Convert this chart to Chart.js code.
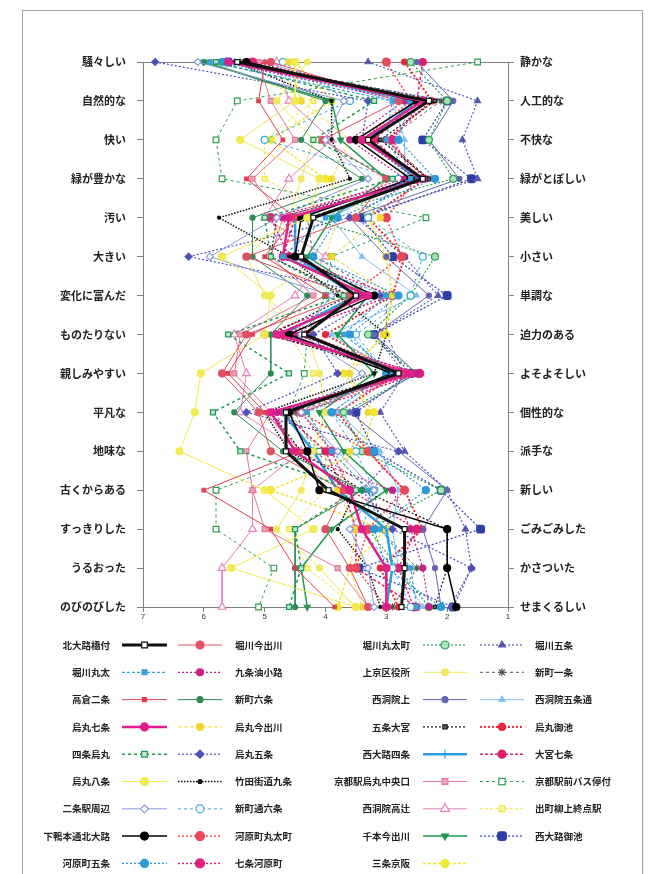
<!DOCTYPE html>
<html>
<head>
<meta charset="utf-8">
<script src="https://cdn.jsdelivr.net/npm/chart.js@4/dist/chart.umd.min.js"></script>
<style>
  html, body { margin: 0; padding: 0; background: #fff; }
  #wrap { position: relative; width: 664px; height: 874px; }
  canvas { display: block; }
</style>
</head>
<body>
<div id="wrap"><canvas id="c" width="664" height="874"></canvas></div>
<script>
// Adjective pairs: left pole / right pole
const leftLabels = ['騒々しい','自然的な','快い','緑が豊かな','汚い','大きい','変化に富んだ','ものたりない','親しみやすい','平凡な','地味な','古くからある','すっきりした','うるおった','のびのびした'];
const rightLabels = ['静かな','人工的な','不快な','緑がとぼしい','美しい','小さい','単調な','迫力のある','よそよそしい','個性的な','派手な','新しい','ごみごみした','かさついた','せまくるしい'];
const scaleTicks = [7, 6, 5, 4, 3, 2, 1];

// Survey sites
const siteNames = ['北大路橋付','堀川丸太','高倉二条','烏丸七条','四条烏丸','烏丸八条','二条駅周辺','下鴨本通北大路','河原町五条',
  '堀川今出川','九条油小路','新町六条','烏丸今出川','烏丸五条','竹田街道九条','新町通六条','河原町丸太町','七条河原町',
  '堀川丸太町','上京区役所','西洞院上','五条大宮','西大路四条','京都駅烏丸中央口','西洞院高辻','千本今出川','三条京阪',
  '堀川五条','新町一条','西洞院五条通','烏丸御池','大宮七条','京都駅前バス停付','出町柳上終点駅','西大路御池'];

// Mean scores per site (7 = left pole, 1 = right pole)
const s01 = [5.45, 2.3, 3.3, 2.4, 4.2, 4.4, 3.5, 4.35, 2.8, 4.65, 4.65, 3.95, 2.7, 2.7, 2.75];
const s02 = [5.9, 2.9, 3.0, 2.6, 4.0, 4.7, 3.0, 3.7, 2.9, 4.3, 3.9, 3.3, 3.1, 2.6, 2.5];
const s03 = [5.0, 5.1, 4.7, 5.3, 4.5, 5.0, 4.0, 5.2, 5.6, 5.0, 4.4, 6.0, 4.9, 4.5, 3.85];
const s04 = [5.6, 2.4, 3.4, 2.4, 4.6, 4.7, 3.3, 4.8, 2.6, 4.9, 4.5, 3.6, 3.4, 3.0, 3.0];
const s05 = [5.8, 3.2, 4.2, 2.9, 5.0, 4.9, 3.7, 5.6, 4.6, 5.85, 5.4, 3.5, 4.5, 4.4, 4.6];
const s06 = [4.5, 4.5, 5.4, 4.1, 4.3, 5.7, 4.9, 5.0, 6.05, 6.15, 6.4, 5.0, 4.2, 5.55, 3.5];
const s07 = [6.1, 3.7, 4.0, 3.3, 4.8, 5.9, 3.9, 4.4, 3.4, 4.4, 3.8, 3.2, 3.6, 3.3, 3.2];
const s08 = [5.3, 2.5, 3.5, 2.6, 4.4, 4.5, 3.2, 4.6, 2.9, 4.6, 4.3, 4.1, 2.0, 2.0, 1.85];
const s09 = [5.7, 2.6, 2.8, 2.2, 3.8, 4.2, 2.8, 3.6, 3.0, 3.9, 3.2, 2.35, 3.2, 3.0, 2.1];
const s10 = [4.9, 2.8, 4.05, 3.0, 3.5, 5.3, 3.6, 5.3, 5.7, 5.1, 4.9, 3.7, 4.0, 3.6, 3.3];
const s11 = [5.7, 2.7, 3.6, 2.7, 4.7, 4.4, 3.4, 4.5, 2.5, 4.8, 4.6, 2.9, 2.6, 2.4, 2.3];
const s12 = [6.0, 4.0, 4.4, 3.4, 5.2, 5.2, 4.3, 4.9, 4.9, 5.5, 4.7, 3.4, 4.5, 4.5, 4.5];
const s13 = [4.6, 4.4, 3.6, 3.9, 3.1, 3.9, 2.9, 3.05, 3.6, 3.3, 3.6, 3.8, 3.5, 3.6, 3.4];
const s14 = [6.8, 3.3, 3.4, 2.5, 3.6, 6.25, 3.1, 4.2, 3.8, 5.3, 2.8, 3.4, 2.9, 1.6, 1.9];
const s15 = [5.5, 3.9, 3.9, 3.6, 5.75, 4.6, 3.8, 3.0, 3.2, 5.0, 4.6, 3.5, 3.8, 3.3, 3.1];
const s16 = [4.7, 3.6, 5.0, 2.8, 3.3, 2.4, 2.6, 3.5, 3.0, 3.9, 3.5, 3.2, 3.4, 2.9, 2.6];
const s17 = [3.0, 2.6, 3.4, 2.5, 3.0, 2.75, 3.6, 4.3, 2.7, 4.4, 3.3, 2.7, 3.3, 3.5, 3.0];
const s18 = [5.2, 2.4, 2.9, 2.5, 4.9, 4.6, 2.9, 4.7, 2.45, 4.4, 3.9, 3.6, 2.5, 2.8, 2.55];
const s19 = [2.6, 2.0, 2.3, 1.9, 4.3, 2.2, 2.6, 3.3, 2.5, 3.7, 3.4, 2.1, 3.3, 2.8, 2.3];
const s20 = [4.3, 4.8, 4.2, 4.4, 4.6, 5.3, 5.0, 4.3, 4.1, 4.0, 4.2, 4.4, 4.8, 4.1, 3.5];
const s21 = [2.5, 1.9, 2.3, 1.8, 3.6, 3.0, 2.3, 3.2, 2.5, 3.6, 2.8, 2.0, 2.4, 2.2, 2.1];
const s22 = [5.6, 2.2, 3.1, 2.3, 4.8, 4.9, 3.6, 4.9, 2.8, 4.9, 4.4, 3.4, 2.0, 2.0, 2.2];
const s23 = [5.5, 2.5, 3.3, 2.5, 4.5, 4.5, 3.5, 4.7, 2.7, 4.7, 4.2, 3.8, 3.0, 2.9, 3.0];
const s24 = [5.1, 4.9, 4.5, 5.2, 4.7, 4.9, 4.2, 5.4, 5.5, 4.9, 5.3, 5.2, 5.0, 3.8, 3.3];
const s25 = [4.8, 4.6, 3.9, 4.6, 5.0, 4.0, 4.5, 5.5, 5.3, 5.4, 4.4, 5.2, 5.2, 5.7, 5.7];
const s26 = [6.0, 3.9, 3.75, 3.0, 3.9, 4.3, 3.3, 3.8, 3.2, 4.1, 3.7, 3.0, 3.9, 4.4, 4.3];
const s27 = [4.5, 3.9, 4.9, 4.0, 3.3, 3.0, 2.9, 3.0, 3.7, 3.2, 3.4, 4.9, 3.0, 3.6, 3.8];
const s28 = [3.3, 1.5, 1.75, 1.5, 3.5, 2.7, 2.15, 3.2, 2.7, 3.1, 2.7, 2.0, 1.7, 1.6, 1.95];
const s29 = [5.4, 2.1, 3.0, 2.3, 4.3, 4.2, 3.0, 3.0, 2.7, 4.5, 4.2, 3.2, 3.1, 2.5, 2.9];
const s30 = [5.0, 2.9, 2.7, 2.7, 3.9, 3.4, 2.5, 3.9, 2.9, 3.8, 3.1, 2.8, 2.9, 2.8, 2.4];
const s31 = [2.7, 2.25, 3.0, 2.35, 3.3, 2.7, 2.9, 4.0, 2.8, 3.8, 3.3, 2.7, 2.4, 3.1, 2.8];
const s32 = [2.4, 2.5, 3.2, 2.5, 4.5, 4.7, 3.3, 5.0, 2.5, 4.7, 4.0, 3.7, 3.5, 3.5, 2.5];
const s33 = [1.5, 5.45, 5.8, 5.7, 2.35, 3.9, 4.0, 4.3, 4.35, 4.6, 4.1, 5.8, 5.8, 4.85, 5.1];
const s34 = [5.9, 4.2, 5.0, 5.0, 3.8, 4.0, 5.0, 4.6, 4.2, 4.3, 4.0, 4.0, 4.6, 4.3, 3.5];
const s35 = [5.6, 2.0, 2.4, 1.6, 3.4, 2.9, 2.0, 3.2, 2.6, 3.5, 3.2, 2.1, 1.45, 3.45, 1.9];

const siteValues = [s01,s02,s03,s04,s05,s06,s07,s08,s09,s10,s11,s12,s13,s14,s15,s16,s17,s18,
  s19,s20,s21,s22,s23,s24,s25,s26,s27,s28,s29,s30,s31,s32,s33,s34,s35];

// Line / marker style of each site
const siteStyles = [
  {c:'#111111', w:3,   d:[],    p:'rect',        r:3.5, f:'#ffffff'},
  {c:'#3aa0d8', w:1.2, d:[3,2], p:'rect',        r:3},
  {c:'#e04050', w:1,   d:[],    p:'rect',        r:2.5},
  {c:'#e0208a', w:2.5, d:[],    p:'circle',      r:3.5},
  {c:'#1f9a55', w:1.5, d:[3,3], p:'rect',        r:3.5, f:'#bfe8cf'},
  {c:'#f2ea50', w:1,   d:[],    p:'circle',      r:3.5},
  {c:'#8a9ae0', w:1,   d:[],    p:'rectRot',     r:3.5, f:'#ffffff'},
  {c:'#000000', w:1.5, d:[],    p:'circle',      r:3.5},
  {c:'#2a9ad8', w:1.2, d:[2,2], p:'circle',      r:3.5},
  {c:'#e05060', w:1,   d:[],    p:'circle',      r:3.5},
  {c:'#c8208a', w:1.2, d:[2,2], p:'circle',      r:3},
  {c:'#2e8b57', w:1,   d:[],    p:'circle',      r:2.5},
  {c:'#f0d830', w:1,   d:[4,2], p:'circle',      r:3},
  {c:'#5050b8', w:1.2, d:[2,2], p:'rectRot',     r:3.5},
  {c:'#111111', w:1.5, d:[1.5,1.5], p:'circle',  r:1.5},
  {c:'#3aa8d8', w:1,   d:[3,3], p:'circle',      r:3.5, f:'#ffffff'},
  {c:'#e84858', w:1.5, d:[2,2], p:'circle',      r:4},
  {c:'#e0207a', w:1.5, d:[2,2], p:'circle',      r:4},
  {c:'#2aa050', w:1.2, d:[2,2], p:'circle',      r:3.5, f:'#a8e4b8'},
  {c:'#f0e860', w:1,   d:[],    p:'circle',      r:3},
  {c:'#6464b4', w:1,   d:[],    p:'circle',      r:2.5},
  {c:'#111111', w:1.2, d:[2,2], p:'rect',        r:2.5, f:'#666666'},
  {c:'#2a9ee0', w:2.5, d:[],    p:'line',        r:4,   rot:90},
  {c:'#e07898', w:1,   d:[],    p:'rect',        r:3.5, f:'#eba6b8'},
  {c:'#e880c0', w:1,   d:[],    p:'triangle',    r:4.5, f:'#ffffff'},
  {c:'#1f9a50', w:1.5, d:[],    p:'triangle',    r:3.5, rot:180},
  {c:'#f0e830', w:1.5, d:[3,2], p:'circle',      r:3.5},
  {c:'#5858b0', w:1.2, d:[2,2], p:'triangle',    r:3.5},
  {c:'#555555', w:1,   d:[3,3], p:'star',        r:3.5},
  {c:'#88c0f0', w:1,   d:[],    p:'triangle',    r:3},
  {c:'#e8283a', w:2,   d:[2,2], p:'circle',      r:3},
  {c:'#e0206a', w:1.5, d:[3,2], p:'circle',      r:3.5},
  {c:'#2aa050', w:1,   d:[3,3], p:'rect',        r:4,   f:'#ffffff'},
  {c:'#f0e840', w:1,   d:[3,2], p:'rect',        r:3.5, f:'#f8f3a0'},
  {c:'#2d3ea8', w:1.2, d:[2,2], p:'rectRounded', r:4.5}
];

const datasets = siteNames.map((name, i) => {
  const st = siteStyles[i];
  return {
    label: name,
    data: siteValues[i],
    borderColor: st.c,
    borderWidth: st.w,
    borderDash: st.d,
    pointStyle: st.p,
    pointRadius: st.r,
    pointRotation: st.rot || 0,
    pointBackgroundColor: st.f || st.c,
    pointBorderColor: st.c,
    pointBorderWidth: 1.2,
    tension: 0,
    fill: false,
    clip: false
  };
});

const AXIS = '#808080';
const LABEL_FONT = {family: '"Noto Sans CJK JP", sans-serif', size: 11, weight: 'bold'};

// Frame, plot box and the four-column legend
const decor = {
  id: 'decor',
  beforeDraw(chart) {
    const ctx = chart.ctx;
    ctx.save();
    ctx.fillStyle = '#fff';
    ctx.fillRect(0, 0, chart.width, chart.height);
    ctx.strokeStyle = '#a0a0a0';
    ctx.lineWidth = 1;
    ctx.strokeRect(22.5, 10.5, 620, 900);
    ctx.restore();
  },
  beforeDatasetsDraw(chart) {
    const a = chart.chartArea, ctx = chart.ctx;
    ctx.save();
    ctx.strokeStyle = AXIS;
    ctx.lineWidth = 1;
    ctx.beginPath();
    ctx.moveTo(a.left, Math.round(a.top) + 0.5);
    ctx.lineTo(a.right, Math.round(a.top) + 0.5);
    ctx.stroke();
    ctx.restore();
  },
  afterDraw(chart) {
    const ctx = chart.ctx;
    const rowY = i => 645 + i * 27.3;
    // column: label anchor x, label alignment, sample line x0..x1
    const cols = [
      {lx: 110, align: 'right', s0: 122, s1: 167},
      {lx: 235, align: 'left',  s0: 178, s1: 222},
      {lx: 410, align: 'right', s0: 423, s1: 467},
      {lx: 535, align: 'left',  s0: 480, s1: 524}
    ];
    const order = [];
    for (let r = 0; r < 9; r++) order.push([0, r]);
    for (let r = 0; r < 9; r++) order.push([1, r]);
    for (let r = 0; r < 9; r++) order.push([2, r]);
    for (let r = 0; r < 8; r++) order.push([3, r]);
    ctx.save();
    chart.data.datasets.forEach((ds, i) => {
      const [ci, r] = order[i];
      const col = cols[ci];
      const y = rowY(r);
      ctx.save();
      ctx.strokeStyle = ds.borderColor;
      ctx.lineWidth = ds.borderWidth;
      ctx.setLineDash(ds.borderDash);
      ctx.beginPath();
      ctx.moveTo(col.s0, y);
      ctx.lineTo(col.s1, y);
      ctx.stroke();
      ctx.setLineDash([]);
      ctx.fillStyle = ds.pointBackgroundColor;
      ctx.strokeStyle = ds.pointBorderColor;
      ctx.lineWidth = ds.pointBorderWidth;
      Chart.helpers.drawPoint(ctx, {
        pointStyle: ds.pointStyle,
        radius: ds.pointRadius + 0.5,
        rotation: ds.pointRotation,
        borderWidth: ds.pointBorderWidth
      }, (col.s0 + col.s1) / 2, y);
      ctx.restore();
      ctx.fillStyle = '#222';
      ctx.font = 'bold 9.5px "Noto Sans CJK JP", sans-serif';
      ctx.textAlign = col.align;
      ctx.textBaseline = 'middle';
      ctx.fillText(ds.label, col.lx, y);
    });
    ctx.restore();
  }
};

new Chart(document.getElementById('c'), {
  type: 'line',
  data: { labels: leftLabels, datasets },
  options: {
    indexAxis: 'y',
    responsive: false,
    animation: false,
    devicePixelRatio: 1,
    layout: { padding: { top: 62, bottom: 245, left: 0, right: 0 } },
    plugins: { legend: { display: false }, tooltip: { enabled: false } },
    scales: {
      x: {
        type: 'linear', min: 1, max: 7, reverse: true, position: 'bottom',
        afterFit(s) { s.height = 22; },
        afterBuildTicks(s) { s.ticks = scaleTicks.map(v => ({ value: v })); },
        ticks: { font: { family: 'Arial, sans-serif', size: 8 }, color: '#333', padding: 0 },
        grid: { drawOnChartArea: false, drawTicks: true, tickLength: 5, color: AXIS },
        border: { color: AXIS, width: 1 }
      },
      y: {
        type: 'category', position: 'left', offset: false,
        afterFit(s) { s.width = 143; },
        ticks: { font: LABEL_FONT, color: '#222', padding: 11, autoSkip: false },
        grid: { drawOnChartArea: false, drawTicks: true, tickLength: 6, color: AXIS },
        border: { color: AXIS, width: 1 }
      },
      yRight: {
        type: 'category', position: 'right', offset: false, labels: rightLabels,
        afterFit(s) { s.width = 156; },
        ticks: { font: LABEL_FONT, color: '#222', padding: 6, autoSkip: false },
        grid: { drawOnChartArea: false, drawTicks: true, tickLength: 6, color: AXIS },
        border: { color: AXIS, width: 1 }
      }
    }
  },
  plugins: [decor]
});
</script>
</body>
</html>
